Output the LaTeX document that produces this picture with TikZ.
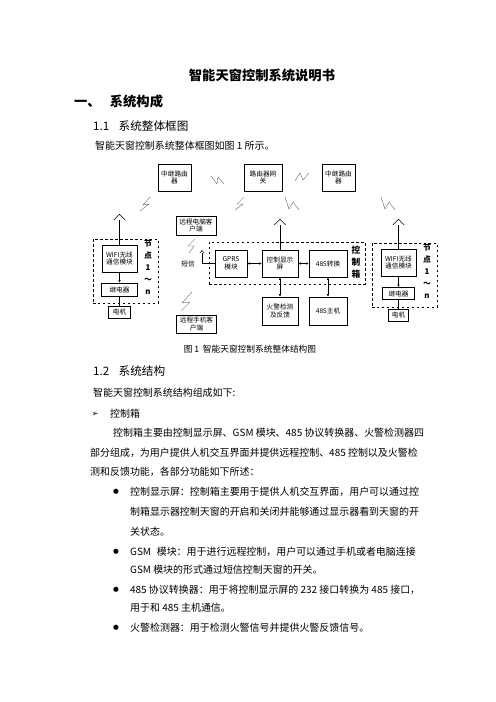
\documentclass[tikz,border=0pt]{standalone}
\usepackage{fontspec}
\setmainfont{Noto Sans CJK SC}
\newfontfamily\symfont{DejaVu Sans}
\usetikzlibrary{arrows.meta}

\begin{document}
\begin{tikzpicture}[
  x=0.4234mm, y=-0.4234mm,
  box/.style={
    draw,
    line width=0.6pt,
    align=center,
    inner sep=1pt,
    font=\fontsize{8pt}{9.5pt}\selectfont
  },
  group/.style={
    draw,
    dashed,
    line width=0.6pt,
    inner sep=0pt
  },
  tagtext/.style={
    align=center,
    inner sep=0pt,
    font=\fontsize{9.5pt}{14.5pt}\selectfont\bfseries
  },
  link/.style={
    {Latex[length=1.1mm,width=1mm]}-{Latex[length=1.1mm,width=1mm]},
    line width=0.6pt
  },
  oneway/.style={
    -{Latex[length=1.1mm,width=1mm]},
    line width=0.6pt
  },
  wire/.style={line width=0.6pt},
  spark/.style={black!65, line width=0.4pt},
  bodyline/.style={
    anchor=west,
    inner sep=0pt,
    font=\fontsize{12pt}{14pt}\selectfont
  },
  heading/.style={
    anchor=west,
    inner sep=0pt,
    font=\fontsize{14pt}{16pt}\selectfont
  },
  dot/.style={
    inner sep=0pt,
    font=\symfont\fontsize{8pt}{8pt}\selectfont
  }
]
\fill[white] (0,0) rectangle (496,702);

% 标题
\node[font=\fontsize{16pt}{18pt}\selectfont\bfseries] (title) at (262,75)
  {智能天窗控制系统说明书};
\node[anchor=west, inner sep=0pt, font=\fontsize{16pt}{18pt}\selectfont\bfseries]
  (sec1) at (74,101) {一、\hspace{3.9mm}系统构成};
\node[heading] (sub1) at (93,126) {1.1\hspace{4mm}系统整体框图};
\node[bodyline] (intro) at (95,146) {智能天窗控制系统整体框图如图 1 所示。};

% 路由器
\node[box, minimum width=14mm, minimum height=11.4mm] (repeaterL) at (174.5,177.5)
  {中继路由\\器};
\node[box, minimum width=16mm, minimum height=11.4mm] (gateway) at (263,177.5)
  {路由器网\\关};
\node[box, minimum width=14mm, minimum height=11.4mm] (repeaterR) at (338.5,177.5)
  {中继路由\\器};

% 远程客户端
\node[box, minimum width=16.9mm, minimum height=8mm] (pcClient) at (196,225.5)
  {远程电脑客\\户端};
\node[box, minimum width=16.9mm, minimum height=7.6mm] (phoneClient) at (196.5,324)
  {远程手机客\\户端};
\node[font=\fontsize{8pt}{9.5pt}\selectfont] (sms) at (188,264) {短信};

% 控制箱
\node[group, minimum width=66mm, minimum height=17.8mm] (ctrlBox) at (287,263) {};
\node[box, minimum width=13.5mm, minimum height=11.4mm] (gprs) at (231,263.5)
  {GPRS\\模块};
\node[box, minimum width=15.2mm, minimum height=11.4mm] (display) at (280,263.5)
  {控制显示\\屏};
\node[box, minimum width=16.1mm, minimum height=11.4mm] (conv) at (328,263.5)
  {485转换};
\node[tagtext, font=\fontsize{10.5pt}{14.5pt}\selectfont\bfseries] (ctrlTag) at (356,262)
  {控\\制\\箱};
\node[box, minimum width=15.2mm, minimum height=11.9mm] (fire) at (280,311)
  {火警检测\\及反馈};
\node[box, minimum width=16.1mm, minimum height=11.9mm] (host485) at (328,311)
  {485主机};

% 节点（左）
\node[group, minimum width=27.5mm, minimum height=27.1mm] (nodeL) at (125.5,271) {};
\node[box, minimum width=14.8mm, minimum height=11.4mm] (wifiL) at (119.5,258.5)
  {WIFI无线\\通信模块};
\node[box, minimum width=15.2mm, minimum height=5.5mm] (relayL) at (119.5,289.5)
  {继电器};
\node[box, minimum width=9.3mm, minimum height=5.1mm] (motorL) at (119.5,312)
  {电机};
\node[tagtext] (tagL) at (148,267) {节\\点\\1\\～\\n};

% 节点（右）
\node[group, minimum width=27.5mm, minimum height=27.1mm] (nodeR) at (404.5,275) {};
\node[box, minimum width=14.8mm, minimum height=11.4mm] (wifiR) at (398.5,262.5)
  {WIFI无线\\通信模块};
\node[box, minimum width=13.5mm, minimum height=5.1mm] (relayR) at (398.5,293.5)
  {继电器};
\node[box, minimum width=8.5mm, minimum height=5.1mm] (motorR) at (398.5,315)
  {电机};
\node[tagtext] (tagR) at (427,271) {节\\点\\1\\～\\n};

% 天线
\coordinate (antL) at (119.5,220);
\coordinate (antC) at (280,225);
\coordinate (antR) at (398.5,225);
\coordinate (antG) at (202,253);
\draw[wire] (antL) -- (wifiL.north);
\draw[wire] ([xshift=-7]antL) -- ([yshift=7]antL) -- ([xshift=7]antL);
\draw[wire] (antC) -- (display.north);
\draw[wire] ([xshift=-7]antC) -- ([yshift=7]antC) -- ([xshift=7]antC);
\draw[wire] (antR) -- (wifiR.north);
\draw[wire] ([xshift=-7]antR) -- ([yshift=7]antR) -- ([xshift=7]antR);
\draw[wire] (antG) |- (gprs.west);
\draw[wire] ([xshift=-2.5]antG) -- ([yshift=3]antG) -- ([xshift=2.5]antG);

% 无线信号
\draw[spark] (211,176) -- (217,184) -- (218,177) -- (224,184);
\draw[spark] (295,181) -- (300,173) -- (303,180) -- (309,173);
\draw[spark] (150,197) -- (143,205) -- (149,204) -- (140,211);
\draw[spark] (244,197) -- (237,204) -- (243,204) -- (235,210);
\draw[spark] (285,197) -- (289,209) -- (293,202) -- (299,210);
\draw[spark] (381,197) -- (385,209) -- (389,202) -- (395,210);
\draw[spark] (195,239) -- (188,246) -- (194,246) -- (189,253);
\draw[spark] (192,292) -- (182,303) -- (190,302) -- (181,311);

% 连线
\draw[link] (gprs) -- (display);
\draw[link] (display) -- (conv);
\draw[link] (display) -- (fire);
\draw[link] (conv) -- (host485);
\draw[oneway] (wifiL) -- (relayL);
\draw[wire] (relayL) -- (motorL);
\draw[oneway] (wifiR) -- (relayR);
\draw[wire] (relayR) -- (motorR);

% 正文
\node[font=\fontsize{10.5pt}{12pt}\selectfont] (caption) at (250,349)
  {图 1\hspace{1.5mm}智能天窗控制系统整体结构图};
\node[heading] (sub2) at (93,371) {1.2\hspace{4mm}系统结构};
\node[bodyline] (intro2) at (93,393) {智能天窗控制系统结构组成如下:};
\node[dot, font=\symfont\fontsize{10pt}{10pt}\selectfont] (mark) at (95,414) {➢};
\node[bodyline] (boxHead) at (110,414) {控制箱};
\node[bodyline] (par1) at (113,433)
  {控制箱主要由控制显示屏、GSM 模块、485 协议转换器、火警检测器四};
\node[bodyline] (par2) at (90,453)
  {部分组成，为用户提供人机交互界面并提供远程控制、485 控制以及火警检};
\node[bodyline] (par3) at (90,472) {测和反馈功能，各部分功能如下所述：};

\node[dot] (dot1) at (116,492) {●};
\node[bodyline] (item1a) at (130,492)
  {控制显示屏：控制箱主要用于提供人机交互界面，用户可以通过控};
\node[bodyline] (item1b) at (130,512)
  {制箱显示器控制天窗的开启和关闭并能够通过显示器看到天窗的开};
\node[bodyline] (item1c) at (130,532) {关状态。};

\node[dot] (dot2) at (116,552) {●};
\node[bodyline] (item2a) at (130,552)
  {GSM\hspace{1.5mm} 模块：用于进行远程控制，用户可以通过手机或者电脑连接};
\node[bodyline] (item2b) at (130,570) {GSM 模块的形式通过短信控制天窗的开关。};

\node[dot] (dot3) at (116,590) {●};
\node[bodyline] (item3a) at (130,590)
  {485 协议转换器：用于将控制显示屏的 232 接口转换为 485 接口，};
\node[bodyline] (item3b) at (130,608) {用于和 485 主机通信。};

\node[dot] (dot4) at (116,628) {●};
\node[bodyline] (item4) at (130,628) {火警检测器：用于检测火警信号并提供火警反馈信号。};

\end{tikzpicture}
\end{document}
